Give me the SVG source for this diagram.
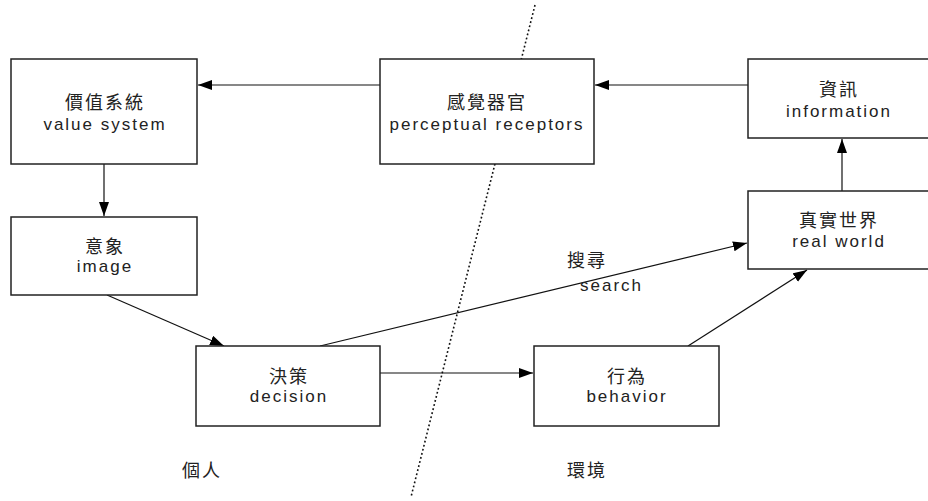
<svg xmlns="http://www.w3.org/2000/svg" width="928" height="501" viewBox="0 0 928 501">
<defs>
<marker id="arr" markerUnits="userSpaceOnUse" markerWidth="16" markerHeight="12" refX="14" refY="5" orient="auto">
<path d="M0,0 L14,5 L0,10 Z" fill="#000"/>
</marker>
<style>
.box{fill:#fff;stroke:#222;stroke-width:1.5}
.cjk{font-family:"Liberation Sans","Noto Sans CJK TC",sans-serif;font-size:18px;letter-spacing:2px;fill:#222;text-anchor:middle}
.en{font-family:"Liberation Sans","Noto Sans CJK TC",sans-serif;font-size:17px;letter-spacing:2px;fill:#222;text-anchor:middle}
.edge{stroke:#111;stroke-width:1.2;fill:none;marker-end:url(#arr)}
.lbl{font-family:"Liberation Sans","Noto Sans CJK TC",sans-serif;font-size:18px;letter-spacing:2px;fill:#222}
</style>
</defs>
<rect width="928" height="501" fill="#fff"/>
<line x1="535" y1="5" x2="411" y2="497" stroke="#111" stroke-width="1.6" stroke-dasharray="1.8 2.4"/>
<g id="connectors">
<line class="edge" x1="380" y1="85" x2="198" y2="85"/>
<line class="edge" x1="748" y1="85" x2="595" y2="85"/>
<line class="edge" x1="104" y1="164" x2="104" y2="216"/>
<line class="edge" x1="107" y1="295" x2="224" y2="346"/>
<line class="edge" x1="320" y1="346" x2="747" y2="243"/>
<line class="edge" x1="380" y1="373" x2="533" y2="373"/>
<line class="edge" x1="688" y1="346" x2="807" y2="270"/>
<line class="edge" x1="842" y1="191" x2="842" y2="139"/>
</g>
<g id="value-system">
<rect class="box" x="11" y="59" width="186" height="105"/>
<text class="cjk" x="105" y="109">價值系統</text>
<text class="en" x="105" y="130">value system</text>
</g>
<g id="perceptual-receptors">
<rect class="box" x="380" y="59" width="214" height="105"/>
<text class="cjk" x="487" y="109">感覺器官</text>
<text class="en" x="487" y="130">perceptual receptors</text>
</g>
<g id="information">
<rect class="box" x="748" y="59" width="182" height="79"/>
<text class="cjk" x="839" y="96">資訊</text>
<text class="en" x="839" y="117">information</text>
</g>
<g id="real-world">
<rect class="box" x="748" y="191" width="182" height="78"/>
<text class="cjk" x="839" y="227">真實世界</text>
<text class="en" x="839" y="247">real world</text>
</g>
<g id="image">
<rect class="box" x="11" y="217" width="186" height="78"/>
<text class="cjk" x="105" y="253">意象</text>
<text class="en" x="105" y="272">image</text>
</g>
<g id="decision">
<rect class="box" x="196" y="346" width="184" height="80"/>
<text class="cjk" x="289" y="383">決策</text>
<text class="en" x="289" y="402">decision</text>
</g>
<g id="behavior">
<rect class="box" x="534" y="346" width="185" height="80"/>
<text class="cjk" x="627" y="383">行為</text>
<text class="en" x="627" y="402">behavior</text>
</g>
<g id="labels">
<text class="lbl" x="567" y="267">搜尋</text>
<text class="lbl" x="580" y="291" style="font-size:17px">search</text>
<text class="lbl" x="182" y="477">個人</text>
<text class="lbl" x="567" y="477">環境</text>
</g>
</svg>
